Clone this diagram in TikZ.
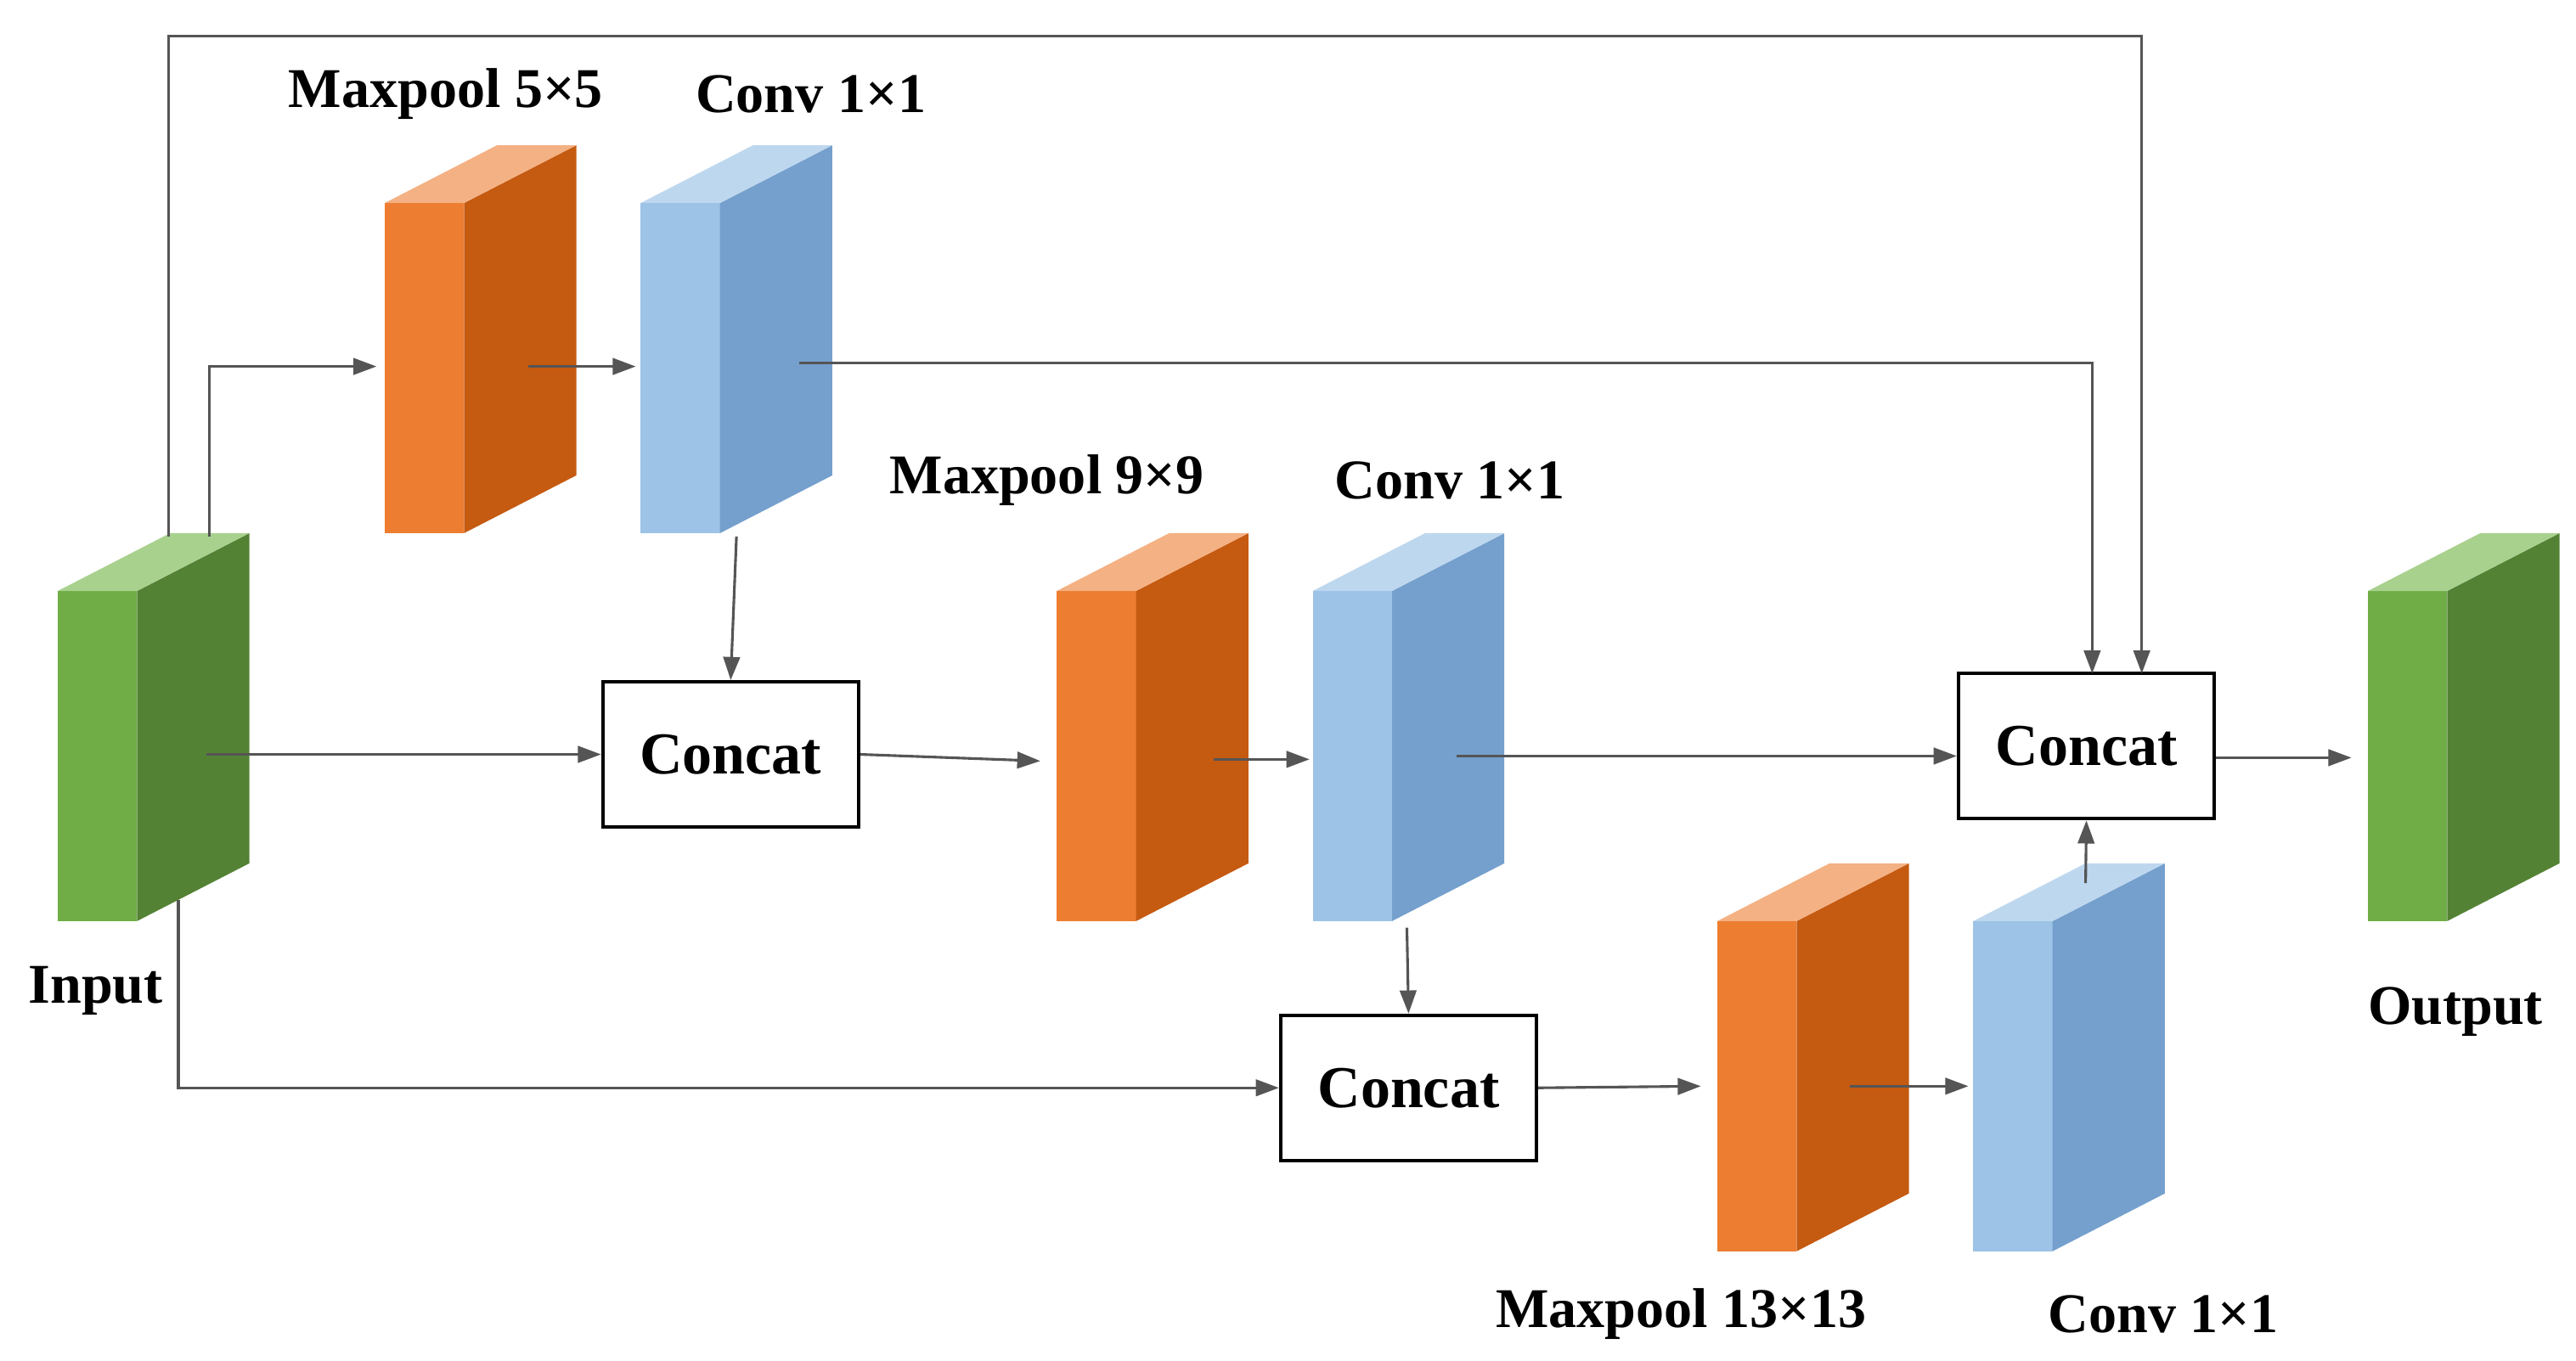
\documentclass[tikz,border=0pt]{standalone}
\usepackage{fontspec}
\setmainfont{Liberation Serif}
\usetikzlibrary{arrows.meta}
\definecolor{oF}{HTML}{ED7D31}\definecolor{oS}{HTML}{C55A11}\definecolor{oT}{HTML}{F4B183}
\definecolor{bF}{HTML}{9DC3E6}\definecolor{bS}{HTML}{75A0CD}\definecolor{bT}{HTML}{BDD7EE}
\definecolor{gF}{HTML}{70AD47}\definecolor{gS}{HTML}{548235}\definecolor{gT}{HTML}{A9D18E}
\definecolor{ln}{HTML}{555555}
\tikzset{arr/.style={draw=ln,line width=1.6pt,-{Triangle[length=14pt,width=10pt]}},
 cc/.style={draw=black,line width=2pt,minimum width=155pt,minimum height=88pt,inner sep=0pt,font=\fontsize{36}{40}\selectfont\bfseries},
 lab/.style={font=\fontsize{34}{38}\selectfont\bfseries,inner sep=0pt}}
\newcommand{\cub}[5]{% x, ytop, F, S, T
 \fill[#3] (#1,#2+35) rectangle (#1+48,#2+235);
 \fill[#4] (#1+48,#2+35) -- (#1+116,#2) -- (#1+116,#2+200) -- (#1+48,#2+235) -- cycle;
 \fill[#5] (#1,#2+35) -- (#1+68,#2) -- (#1+116,#2) -- (#1+48,#2+35) -- cycle;}
\begin{document}
\begin{tikzpicture}[x=1pt,y=-1pt]
\useasboundingbox (0,0) rectangle (1560,824);
\cub{35}{323}{gF}{gS}{gT}
\cub{233}{88}{oF}{oS}{oT}
\cub{388}{88}{bF}{bS}{bT}
\cub{640}{323}{oF}{oS}{oT}
\cub{795}{323}{bF}{bS}{bT}
\cub{1040}{523}{oF}{oS}{oT}
\cub{1195}{523}{bF}{bS}{bT}
\cub{1434}{323}{gF}{gS}{gT}
\node[cc] (c1) at (442.5,457) {Concat};
\node[cc] (c2) at (853,659) {Concat};
\node[cc] (c3) at (1263.5,452) {Concat};
\node[lab] (l1) at (270,57) {Maxpool 5×5};
\node[lab] (l2) at (491,57) {Conv 1×1};
\node[lab] (l3) at (634,291) {Maxpool 9×9};
\node[lab] (l4) at (878,291) {Conv 1×1};
\node[lab] (l5) at (1018,796) {Maxpool 13×13};
\node[lab] (l6) at (1310,796) {Conv 1×1};
\node[lab] (l7) at (58,600) {Input};
\node[lab] (l8) at (1487,613) {Output};
\draw[arr] (127,325) -- (127,222) -- (228,222);
\draw[arr] (320,222) -- (385,222);
\draw[arr] (484,220) -- (1267,220) -- (1267,408);
\draw[arr] (102,325) -- (102,22) -- (1297,22) -- (1297,408);
\draw[arr] (446,325) -- (c1.north);
\draw[arr] (125,457) -- (c1.west);
\draw[arr] (c1.east) -- (630,461);
\draw[arr] (735,460) -- (793,460);
\draw[arr] (882,458) -- (c3.west|-0,458);
\draw[arr] (852,562) -- (c2.north);
\draw[arr] (108,545) -- (108,659) -- (c2.west);
\draw[arr] (c2.east) -- (1030,658);
\draw[arr] (1120,658) -- (1192,658);
\draw[arr] (1263,535) -- (c3.south);
\draw[arr] (c3.east|-0,459) -- (1424,459);
\end{tikzpicture}
\end{document}
